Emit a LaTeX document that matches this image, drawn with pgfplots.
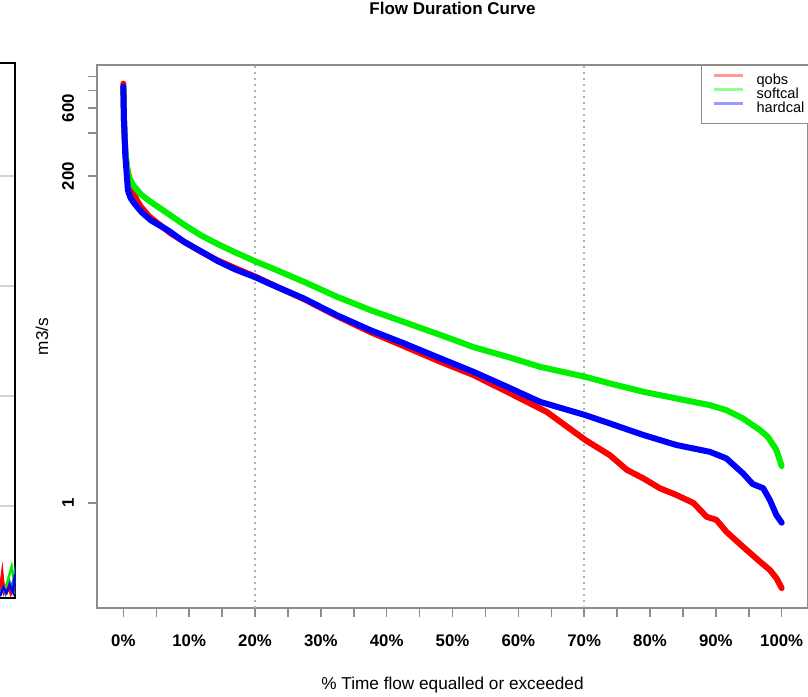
\documentclass[border=0pt]{standalone}
\usepackage{pgfplots}
\pgfplotsset{compat=1.18}
\usepackage{fontspec}
\setmainfont{Liberation Sans}
\definecolor{qobs}{RGB}{255,0,0}
\definecolor{soft}{RGB}{0,240,0}
\definecolor{hard}{RGB}{0,0,255}
\definecolor{axgray}{RGB}{140,140,140}
\definecolor{teal1}{RGB}{31,119,180}

\begin{document}
\begin{tikzpicture}
\useasboundingbox (0,0) rectangle (404pt,348pt);
\clip (0,0) rectangle (404pt,348pt);

% partial neighbouring panel on the left
\begin{axis}[at={(-150pt,49pt)}, anchor=south west, scale only axis,
  width=157.75pt, height=267.5pt, xmin=0, xmax=100, ymin=0.164, ymax=5.027,
  axis line style={black, line width=1pt}, ytick={1,2,3,4}, yticklabels={},
  xtick=\empty, ymajorgrids, major grid style={gray!35, line width=0.6pt},
  tick style={draw=none}]
\addplot[teal1, line width=1.5pt] coordinates {(95.1,0.20)(96.0,0.30)(96.8,0.22)(97.8,0.33)(98.8,0.24)(99.6,0.36)(100,0.20)};
\addplot[qobs, line width=1.2pt] coordinates {(95.1,0.24)(95.8,0.40)(96.4,0.22)(97.5,0.30)(98.5,0.20)(99.5,0.26)};
\addplot[soft, line width=1.2pt] coordinates {(95.1,0.19)(97.0,0.27)(98.8,0.45)(99.6,0.30)};
\addplot[hard, line width=1.2pt] coordinates {(95.1,0.18)(96.2,0.26)(97.2,0.21)(98.2,0.28)(99.2,0.22)(99.8,0.38)};
\end{axis}

\begin{axis}[at={(48.5pt,44pt)}, anchor=south west, scale only axis,
  width=355.5pt, height=271.5pt,
  xmin=-4, xmax=104, ymode=log, ymin=0.1825, ymax=1208,
  axis line style={axgray, line width=0.75pt},
  tick align=outside, major tick length=4.5pt, minor tick length=4.5pt,
  tick style={axgray, line width=0.75pt},
  xtick pos=bottom, ytick pos=left,
  xtick={0,10,...,100}, minor xtick={5,15,...,95},
  xticklabels={0\%,10\%,20\%,30\%,40\%,50\%,60\%,70\%,80\%,90\%,100\%},
  ytick={1,200,400,600,800,1000}, yticklabels={1,200,{},600,{},{}},
  yminorticks=false,
  ticklabel style={font=\bfseries\fontsize{8.4}{10}\selectfont, text=black},
  xticklabel style={anchor=center, yshift=-12pt},
  yticklabel style={xshift=-10pt, rotate=90, anchor=center},
  extra x ticks={20,70}, extra x tick labels={},
  extra x tick style={grid=major, major tick length=0pt,
     major grid style={gray!60, line width=0.75pt, dash pattern=on 1pt off 2pt}},
  title={Flow Duration Curve},
  title style={font=\bfseries\fontsize{8.5}{10}\selectfont, at={(rel axis cs:0.5,1)}, anchor=center, yshift=22.5pt},
  xlabel={\% Time flow equalled or exceeded},
  every axis x label/.style={at={(rel axis cs:0.5,0)}, anchor=center, yshift=-38.5pt, font=\fontsize{8.6}{10}\selectfont},
  ylabel={m3/s},
  every axis y label/.style={at={(rel axis cs:0,0.5)}, xshift=-27.5pt, rotate=90, anchor=center, font=\fontsize{8.6}{10}\selectfont},
  legend style={at={(rel axis cs:0.849,1)}, anchor=north west, draw=axgray, line width=0.75pt,
     fill=white, font=\fontsize{7.3}{7.3}\selectfont, inner xsep=6pt, inner ysep=4pt, row sep=0pt,
     nodes={inner sep=0pt, text height=5.3pt, text depth=1.7pt},
     /tikz/every odd column/.append style={column sep=6pt}},
  legend cell align=left,
  legend image code/.code={\draw[#1] (0pt,2.6pt) -- (14.5pt,2.6pt);},
]
\addlegendimage{color=red!40, line width=1.1pt}
\addlegendentry{\makebox[30pt][l]{qobs}}
\addlegendimage{color=green!45, line width=1.1pt}
\addlegendentry{\makebox[30pt][l]{softcal}}
\addlegendimage{color=blue!40, line width=1.1pt}
\addlegendentry{\makebox[30pt][l]{hardcal}}

\addplot[qobs, line width=3pt, line join=round, line cap=round, forget plot] table {
0 894
0.1 491
0.3 302
0.5 237
1.0 180
1.5 153
2.1 134
2.7 120.9
3.9 104
5.3 92.4
7.2 79
9.3 68.6
11.7 59
14.3 51.0
17.2 44.5
20.2 38.9
23.9 32.3
27.5 27.1
32.5 20.6
37.6 15.9
42.6 12.7
48.2 9.84
53.2 7.94
58.3 6.06
64.3 4.38
70.2 2.77
73.9 2.17
76.5 1.71
79.0 1.49
81.5 1.27
84.0 1.14
86.6 1.00
88.6 0.80
90.1 0.76
91.6 0.628
94.1 0.493
96.7 0.387
98.2 0.338
99.2 0.296
100 0.252
};
\addplot[soft, line width=3pt, line join=round, line cap=round, forget plot] table {
0 852
0.1 491
0.3 302
0.6 219
1.0 190
1.5 172
2.7 148
4.2 131
6.8 108.6
9.2 91
11.8 76.4
14.3 66.5
16.9 58.3
20.2 49.8
22.4 45.3
27.5 35.9
32.5 28.2
37.6 22.7
42.6 18.8
48.2 15.2
53.2 12.5
58.3 10.7
63.3 9.08
70.2 7.72
73.9 6.94
79.0 6.06
84.0 5.44
89.1 4.88
91.6 4.50
94.1 3.94
96.7 3.26
97.9 2.92
99.2 2.36
100 1.82
};
\addplot[hard, line width=3pt, line join=round, line cap=round, forget plot] table {
0 852
0.1 491
0.3 279
0.7 158
1.1 140
1.7 127.7
2.8 111
4.2 97.4
6.8 82.9
9.2 69
11.8 59
14.3 50.5
16.9 44.2
20.2 38.5
22.4 34.6
27.5 27.4
32.5 20.9
37.6 16.4
42.6 13.3
48.2 10.4
53.2 8.37
58.3 6.57
63.3 5.15
70.2 4.15
73.9 3.63
79.0 3.01
84.0 2.56
89.1 2.29
91.6 2.06
94.1 1.62
95.6 1.36
97.2 1.27
98.2 1.05
99.2 0.823
100 0.727
};
\end{axis}
\end{tikzpicture}
\end{document}
